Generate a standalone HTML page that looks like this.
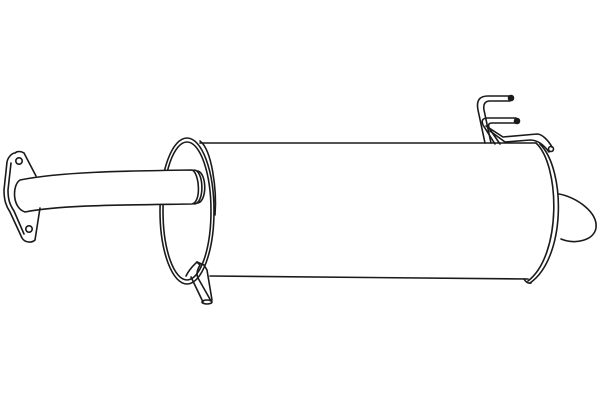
<!DOCTYPE html>
<html><head><style>html,body{margin:0;padding:0;background:#fff}svg{display:block}</style></head>
<body>
<svg width="600" height="400" viewBox="0 0 600 400" xmlns="http://www.w3.org/2000/svg" fill="none" stroke="#1a1a1a" stroke-width="1.6" stroke-linejoin="round" stroke-linecap="round">
<!-- body lines -->
<path d="M200 143 L536 143"/>
<path d="M210 276 L528 279"/>
<!-- right end cap -->
<path d="M536 143 C560 165 562 255 528 281"/>
<path d="M540 144 C566 170 566 258 530 283"/>
<path d="M524 279 Q527 284 531 283"/>
<!-- tail cone -->
<path d="M559 194 C576 197 598 212 596 228 C594 240 576 245 561 239"/>
<!-- front end cap -->
<ellipse cx="187" cy="211" rx="27" ry="73"/>
<ellipse cx="187" cy="211" rx="24" ry="69"/>
<path d="M200 141 C212 150 217 190 215 215"/>
<!-- inlet pipe (covers ellipse) -->
<path d="M20 180 C60 172 120 171 192 170 C199 172 202 202 192 204 C120 205 60 205 25 212 C12 208 12 185 20 180 Z" fill="#fff"/>
<path d="M194 170 C204 170 205 204 194 204"/>
<path d="M198 171 C207 174 207 201 198 203"/>
<!-- flange -->
<path d="M15 153 C12 153 8 157 7 162 L4 190 C4 200 6 206 10 212 L22 238 C25 243 32 243 35 240 L40 208 M24 153 L36 176 M24 153 C21 151 17 151 15 153"/>
<path d="M11 163 L8 190 C8 200 10 205 14 211 L24 234"/>
<circle cx="19" cy="161" r="3.2"/>
<circle cx="29" cy="229" r="3.2"/>
<!-- lower pipe -->
<path d="M186 276 C190 268 194 265 197 262 L200 265 C197 270 196 274 198 278 L211 301"/>
<path d="M191 277 L203 302"/>
<path d="M197 262 L204 265 L207 270 L212 300"/>
<ellipse cx="207" cy="302" rx="5" ry="2"/>
<!-- hooks -->
<path d="M485 143 L478 110 C476 100 480 96 488 96 L510 96"/>
<path d="M491 143 L484 110 C483 104 485 101 490 101 L510 101"/>
<circle cx="511" cy="98" r="2.5" fill="#1a1a1a"/>
<path d="M495 144 L483 125 C481 120 483 118 488 118 L516 118"/>
<path d="M500 144 L489 128 C488 124 489 123 492 123 L516 123"/>
<circle cx="517" cy="121" r="2.5" fill="#1a1a1a"/>
<path d="M486 126 L503 137 L537 134 C542 134 548 140 552 147"/>
<path d="M490 131 L505 142 L530 140 C538 140 544 145 549 152"/>
<circle cx="551" cy="149" r="2.5"/>
</svg>
</body></html>
